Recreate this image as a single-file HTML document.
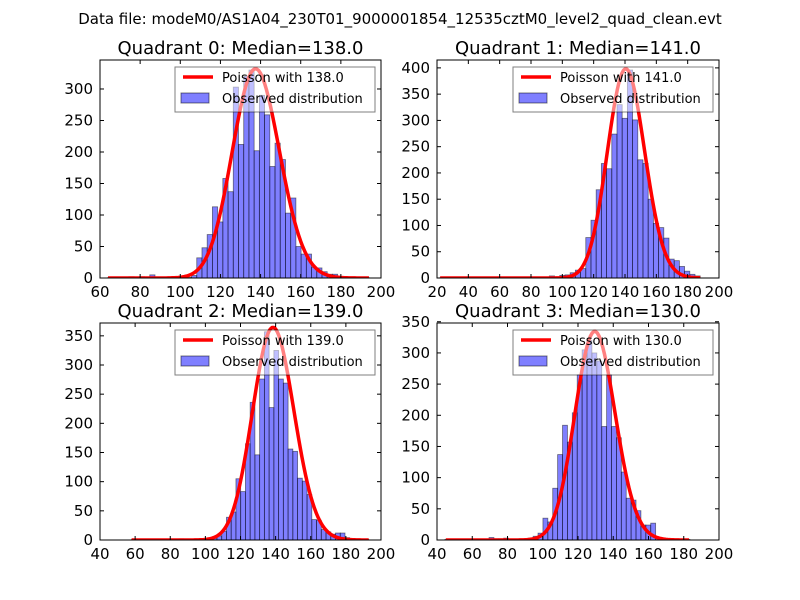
<!DOCTYPE html>
<html><head><meta charset="utf-8"><style>
html,body{margin:0;padding:0;background:#fff}
svg{display:block}
text{font-family:"DejaVu Sans","Liberation Sans",sans-serif;fill:#000}
</style></head><body>
<svg id="fig" width="800" height="600" viewBox="0 0 800 600">
<rect x="0" y="0" width="800" height="600" fill="#fff"/>
<text x="400" y="24" font-size="15" text-anchor="middle">Data file: modeM0/AS1A04_230T01_9000001854_12535cztM0_level2_quad_clean.evt</text>
</svg>
<script>
// ---- data ----
const q0Counts=[1,0,1,1,2,1,2,1,5,0,0,1,0,1,3,1,4,32,48,69,113,89,158,137,303,212,320,330,202,290,259,177,214,188,103,127,50,38,38,17,16,10,6,6,2,1,1,1,0,1];
const q1Counts=[1,0,0,0,0,0,0,0,0,0,0,0,0,0,0,0,0,2,0,0,0,4,2,5,6,10,15,18,77,110,168,218,208,274,330,304,396,301,225,218,150,104,96,76,36,33,22,13,7,4];
const q2Counts=[1,0,0,0,1,0,1,0,0,1,2,0,1,0,1,2,1,3,7,15,39,48,105,83,165,236,146,276,357,227,325,276,269,156,152,106,101,78,35,34,18,14,10,12,12,4,2,1,1,1];
const q3Counts=[1,0,0,1,0,0,0,1,0,4,2,2,3,1,0,1,1,3,6,11,35,29,83,137,184,157,204,265,305,320,300,287,182,265,182,164,109,67,64,47,24,24,27,4,3,2,1,1,0,1];
const medians=[138,141,139,130];
const curveScale=[1.05,1.04,1.2,0.98];
const binStarts=[64,22,58,44.5];
const binWidths=[2.6,3.32,2.7,2.78];
const xTicks0=[60,80,100,120,140,160,180,200];
const xTicks1=[20,40,60,80,100,120,140,160,180,200];
const xTicks2=[40,60,80,100,120,140,160,180,200];
const xTicks3=[40,60,80,100,120,140,160,180,200];
const yTicks0=[0,50,100,150,200,250,300];
const yTicks1=[0,50,100,150,200,250,300,350,400];
const yTicks2=[0,50,100,150,200,250,300,350];
const yTicks3=[0,50,100,150,200,250,300,350];
const xDomains=[[60,200],[20,200],[40,200],[40,200]];
const yMaxes=[346,415,372,348];

// ---- layout ----
const NS="http://www.w3.org/2000/svg";
const svg=document.getElementById('fig');
const boxes=[{l:100,t:60,r:381,b:278},{l:437,t:60,r:719,b:278},{l:100,t:323,r:381,b:540},{l:437,t:323,r:719,b:540}];
const allCounts=[q0Counts,q1Counts,q2Counts,q3Counts];
const allX=[xTicks0,xTicks1,xTicks2,xTicks3];
const allY=[yTicks0,yTicks1,yTicks2,yTicks3];
function mk(tag,attrs,parent){const e=document.createElementNS(NS,tag);for(const k in attrs)e.setAttribute(k,attrs[k]);(parent||svg).appendChild(e);return e;}
function logFact(n){let s=0;for(let i=2;i<=n;i++)s+=Math.log(i);return s;}
function pmf(k,lam){return Math.exp(k*Math.log(lam)-lam-logFact(k));}

for(let q=0;q<4;q++){
  const B=boxes[q],counts=allCounts[q],x0=binStarts[q],bw=binWidths[q];
  const [dx0,dx1]=xDomains[q];const ymax=yMaxes[q];
  const sx=v=>B.l+(v-dx0)/(dx1-dx0)*(B.r-B.l);
  const sy=v=>B.b-v/ymax*(B.b-B.t);
  const g=mk('g',{});
  
  
  const clipId='clip'+q;
  const cp=mk('clipPath',{id:clipId},g);mk('rect',{x:B.l,y:B.t,width:B.r-B.l,height:B.b-B.t},cp);
  for(let i=0;i<counts.length;i++){
    if(counts[i]<=0)continue;
    const xa=sx(x0+i*bw),xb=sx(x0+(i+1)*bw),ya=sy(counts[i]);
    const r=mk('rect',{x:xa,y:ya,width:xb-xa,height:B.b-ya,fill:'rgba(0,0,255,0.5)',stroke:'rgba(0,0,0,0.5)','stroke-width':0.8,'clip-path':'url(#'+clipId+')'},g);
    
    
  }
  const N=counts.reduce((a,b)=>a+b,0);
  const lam=medians[q];
  let pts=[];
  const kStart=Math.ceil(x0),kEnd=Math.floor(x0+bw*counts.length);
  for(let k=kStart;k<=kEnd;k++){pts.push(sx(k).toFixed(2)+','+sy(curveScale[q]*N*bw*pmf(k,lam)).toFixed(2));}
  const line=mk('polyline',{points:pts.join(' '),fill:'none',stroke:'#ff0000','stroke-width':3.5,'stroke-linejoin':'round','clip-path':'url(#'+clipId+')'},g);
  
  
  mk('rect',{x:B.l,y:B.t,width:B.r-B.l,height:B.b-B.t,fill:'none',stroke:'#000','stroke-width':1},g);
  for(const t of allX[q]){
    const x=sx(t);
    mk('line',{x1:x,y1:B.b,x2:x,y2:B.b-4,stroke:'#000'},g);
    mk('line',{x1:x,y1:B.t,x2:x,y2:B.t+4,stroke:'#000'},g);
    const tx=mk('text',{x:x,y:B.b+19,'font-size':15,'text-anchor':'middle'},g);tx.textContent=t;
    
    
  }
  for(const t of allY[q]){
    const y=sy(t);
    mk('line',{x1:B.l,y1:y,x2:B.l+4,y2:y,stroke:'#000'},g);
    mk('line',{x1:B.r,y1:y,x2:B.r-4,y2:y,stroke:'#000'},g);
    const ty=mk('text',{x:B.l-7,y:y+5,'font-size':15,'text-anchor':'end'},g);ty.textContent=t;
    
    
  }
  const tt=mk('text',{x:(B.l+B.r)/2,y:B.t-6,'font-size':18,'text-anchor':'middle'},g);
  tt.textContent='Quadrant '+q+': Median='+medians[q].toFixed(1);
  
  
  const lg=mk('g',{},g);
  
  
  const lx=B.r-206,ly=B.t+7;
  mk('rect',{x:lx,y:ly,width:200,height:45,fill:'rgba(255,255,255,0.5)',stroke:'rgba(0,0,0,0.5)','stroke-width':1},lg);
  mk('line',{x1:lx+8,y1:ly+10,x2:lx+38,y2:ly+10,stroke:'#ff0000','stroke-width':3.5},lg);
  const t1=mk('text',{x:lx+47,y:ly+15,'font-size':13},lg);t1.textContent='Poisson with '+medians[q].toFixed(1);
  
  
  mk('rect',{x:lx+6,y:ly+26,width:28,height:10,fill:'rgba(0,0,255,0.5)',stroke:'rgba(0,0,0,0.5)'},lg);
  const t2=mk('text',{x:lx+47,y:ly+36,'font-size':13},lg);t2.textContent='Observed distribution';
  
  
}
</script>
</body></html>
